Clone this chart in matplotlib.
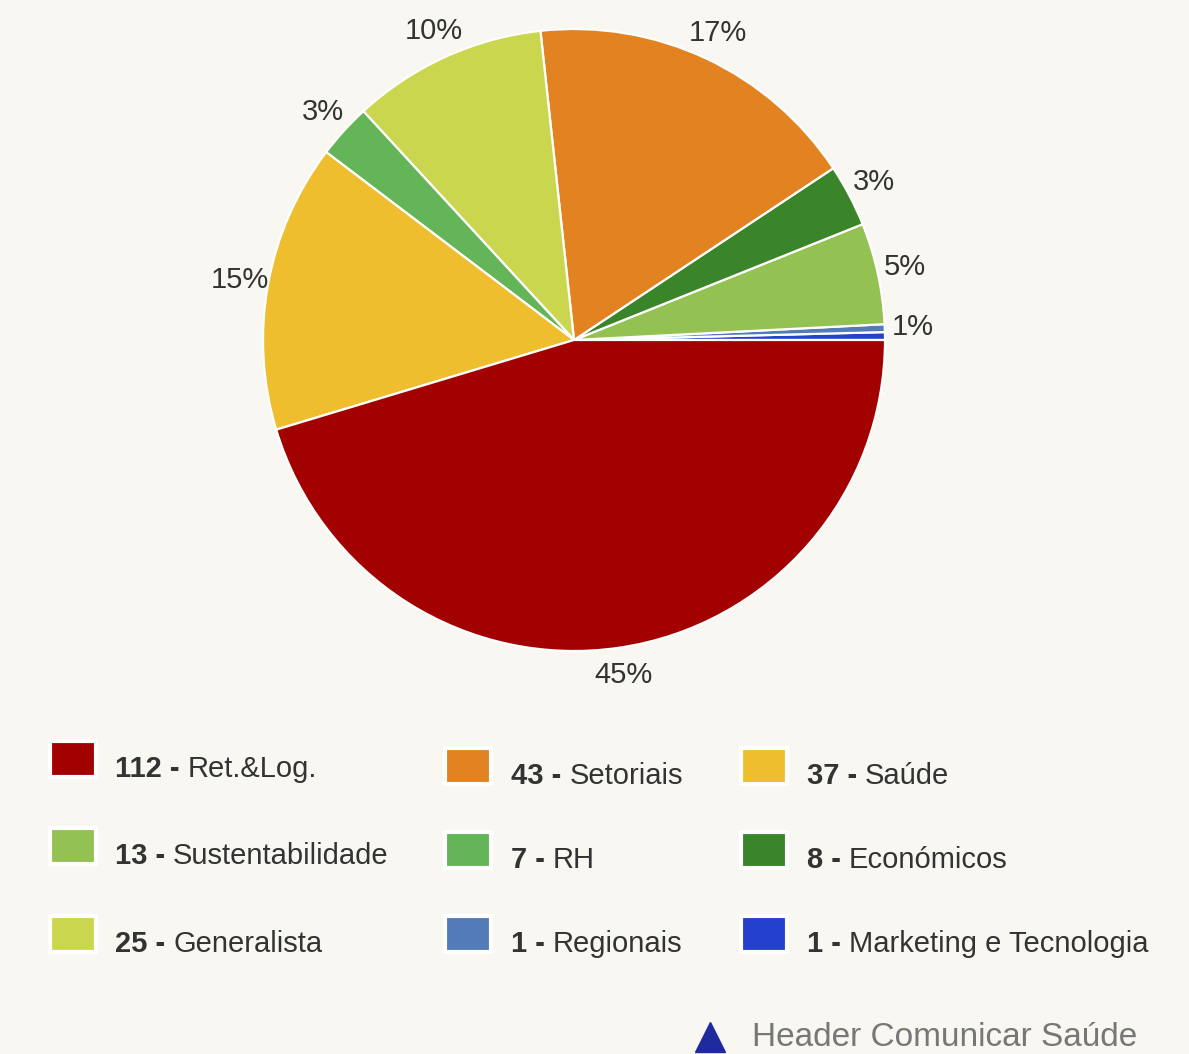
import matplotlib
matplotlib.use("Agg")
import matplotlib.pyplot as plt
import numpy as np

plt.rcParams["font.family"] = ["Liberation Sans", "DejaVu Sans"]

# pie order, counter-clockwise from 3 o'clock
categories = ["Marketing e Tecnologia", "Regionais", "Sustentabilidade", "Económicos",
              "Setoriais", "Generalista", "RH", "Saúde", "Ret.&Log."]
counts = [1, 1, 13, 8, 43, 25, 7, 37, 112]
colors = ["#2340cf", "#527bb8", "#93c252", "#3a8429", "#e38220",
          "#cad74e", "#64b558", "#efbe2f", "#a30000"]
hidden_labels = ["Marketing e Tecnologia"]  # overlaps with Regionais label

# legend order (row by row)
legend_order = ["Ret.&Log.", "Setoriais", "Saúde",
                "Sustentabilidade", "RH", "Económicos",
                "Generalista", "Regionais", "Marketing e Tecnologia"]

BG = "#f8f7f2"
TXT = "#333333"
W, H = 1189, 1054

fig = plt.figure(figsize=(W / 100, H / 100), dpi=100, facecolor=BG)
ax = fig.add_axes([0, 0, 1, 1])
ax.set_facecolor(BG)

cx, cy, r = 574, H - 340, 311
wedges, _ = ax.pie(counts, colors=colors, startangle=0, counterclock=True,
                   center=(cx, cy), radius=r,
                   wedgeprops=dict(edgecolor="white", linewidth=1.6))
ax.set_xlim(0, W)
ax.set_ylim(0, H)
ax.set_aspect("equal")
ax.axis("off")

total = sum(counts)
for w, name, v in zip(wedges, categories, counts):
    if name in hidden_labels:
        continue
    mid = np.deg2rad((w.theta1 + w.theta2) / 2)
    pct = max(1, round(v / total * 100))
    ax.text(cx + 1.09 * r * np.cos(mid), cy + 1.09 * r * np.sin(mid), f"{pct}%",
            ha="center", va="center", fontsize=21, color=TXT)

# legend, drawn by hand in a 3x3 grid
col_sq_x = [50, 445, 741]
col_txt_x = [115, 511, 807]
row_y = [[759, 766, 766], [846, 850, 850], [934, 934, 934]]
sq_w, sq_h = 46, 36
fig.canvas.draw()
renderer = fig.canvas.get_renderer()
for i, name in enumerate(legend_order):
    row, col = divmod(i, 3)
    idx = categories.index(name)
    yc = H - row_y[row][col]
    ax.add_patch(plt.Rectangle((col_sq_x[col], yc - sq_h / 2), sq_w, sq_h,
                               facecolor=colors[idx], edgecolor="white", linewidth=3))
    t1 = ax.text(col_txt_x[col], yc - 18, f"{counts[idx]} -", fontsize=21,
                 fontweight="bold", color=TXT, va="baseline", ha="left")
    bb = t1.get_window_extent(renderer=renderer)
    ax.text(bb.x1 + 8, yc - 18, name, fontsize=21, color=TXT, va="baseline", ha="left")

# footer
ax.plot([710], [H - 1037], marker="^", markersize=21, color="#1f2a9e", clip_on=False)
ax.text(752, H - 1046, "Header Comunicar Saúde", fontsize=24, color="#777777",
        va="baseline", ha="left")

fig.savefig("out.png", dpi=100, facecolor=BG)
